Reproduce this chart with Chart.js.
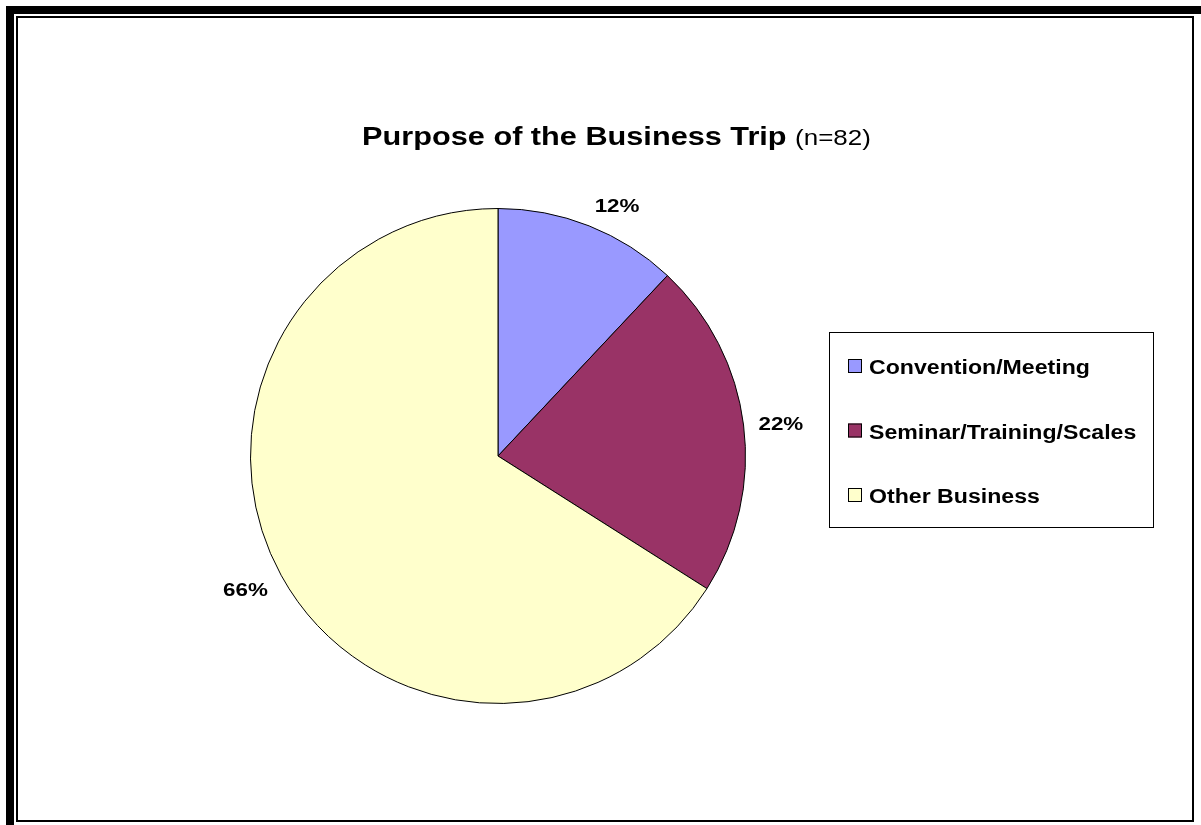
<!DOCTYPE html>
<html>
<head>
<meta charset="utf-8">
<title>Purpose of the Business Trip</title>
<script src="https://cdn.jsdelivr.net/npm/chart.js@4.4.0/dist/chart.umd.min.js"></script>
<style>
  html, body { margin: 0; padding: 0; background: #fff; }
  #wrap { width: 1201px; height: 825px; }
</style>
</head>
<body>
<div id="wrap"><canvas id="tripChart" width="1201" height="825"></canvas></div>
<script>
// trip purpose shares (n=82)
var purposes = ["Convention/Meeting", "Seminar/Training/Scales", "Other Business"];
var shares = [12, 22, 66];
var sliceColors = ["#9999ff", "#993366", "#ffffcc"];

var titleMain = "Purpose of the Business Trip";
var titleNote = "(n=82)";
var FONT = "'Liberation Sans', Arial, Helvetica, sans-serif";
var STRETCH = 1.18; // text is drawn a little wide

// draw text stretched horizontally, x is left edge
function wideText(ctx, txt, x, y){
    ctx.save();
    ctx.translate(x, y);
    ctx.scale(STRETCH, 1);
    ctx.fillText(txt, 0, 0);
    ctx.restore();
}
function wideWidth(ctx, txt){
    return ctx.measureText(txt).width * STRETCH;
}

// white page with the double frame
var framePlugin = {
    id: "frame",
    beforeDraw: function(chart){
        var ctx = chart.ctx;
        ctx.save();
        ctx.fillStyle = "#fff";
        ctx.fillRect(0, 0, chart.width, chart.height);
        ctx.strokeStyle = "#000";
        ctx.lineWidth = 8;
        ctx.strokeRect(10, 10, chart.width - 2, chart.height + 2);
        ctx.lineWidth = 2;
        ctx.strokeRect(17, 17, chart.width - 25, chart.height - 21);
        ctx.restore();
    }
};

// title, percent labels and boxed legend
var textPlugin = {
    id: "texts",
    afterDraw: function(chart){
        var ctx = chart.ctx;
        ctx.save();
        ctx.fillStyle = "#000";
        ctx.textBaseline = "alphabetic";

        // title
        ctx.font = "bold 26px " + FONT;
        var w1 = wideWidth(ctx, titleMain + " ");
        ctx.font = "22px " + FONT;
        var w2 = wideWidth(ctx, titleNote);
        var tx = 616.5 - (w1 + w2) / 2;
        ctx.font = "bold 26px " + FONT;
        wideText(ctx, titleMain + " ", tx, 145);
        ctx.font = "22px " + FONT;
        wideText(ctx, titleNote, tx + w1, 145);

        // percent labels just outside each slice
        var meta = chart.getDatasetMeta(0);
        var total = shares.reduce(function(a, b){ return a + b; }, 0);
        ctx.font = "bold 19px " + FONT;
        var lh = 14;
        meta.data.forEach(function(arc, i){
            var p = arc.getProps(["x", "y", "startAngle", "endAngle", "outerRadius"], true);
            var mid = (p.startAngle + p.endAngle) / 2;
            var r = p.outerRadius + 15;
            var ax = p.x + Math.cos(mid) * r;
            var ay = p.y + Math.sin(mid) * r;
            var lbl = Math.round(shares[i] / total * 100) + "%";
            var w = wideWidth(ctx, lbl);
            var left = Math.cos(mid) >= 0 ? ax : ax - w;
            var base;
            if (Math.abs(Math.sin(mid)) < 0.3) base = ay + lh / 2;   // beside the pie
            else base = Math.sin(mid) < 0 ? ay : ay + lh;
            wideText(ctx, lbl, left, base);
        });

        // legend box
        ctx.strokeStyle = "#000";
        ctx.lineWidth = 1;
        ctx.strokeRect(829.5, 332.5, 324, 195);
        ctx.font = "bold 19.6px " + FONT;
        purposes.forEach(function(name, i){
            var by = 374 + i * 64.5;
            ctx.fillStyle = sliceColors[i];
            ctx.fillRect(848, by - 15, 14, 14);
            ctx.strokeStyle = "#000";
            ctx.strokeRect(848.5, by - 14.5, 13, 13);
            ctx.fillStyle = "#000";
            wideText(ctx, name, 869, by);
        });
        ctx.restore();
    }
};

var ctx = document.getElementById("tripChart");
var chart = new Chart(ctx, {
    type: "pie",
    data: {
        labels: purposes,
        datasets: [{
            data: shares,
            backgroundColor: sliceColors,
            borderColor: "#000",
            borderWidth: 1
        }]
    },
    options: {
        responsive: false,
        animation: false,
        devicePixelRatio: 1,
        layout: { padding: { left: 250, right: 455, top: 208, bottom: 121 } },
        plugins: {
            legend: { display: false },
            title: { display: false },
            tooltip: { enabled: false }
        }
    },
    plugins: [framePlugin, textPlugin]
});
</script>
</body>
</html>
